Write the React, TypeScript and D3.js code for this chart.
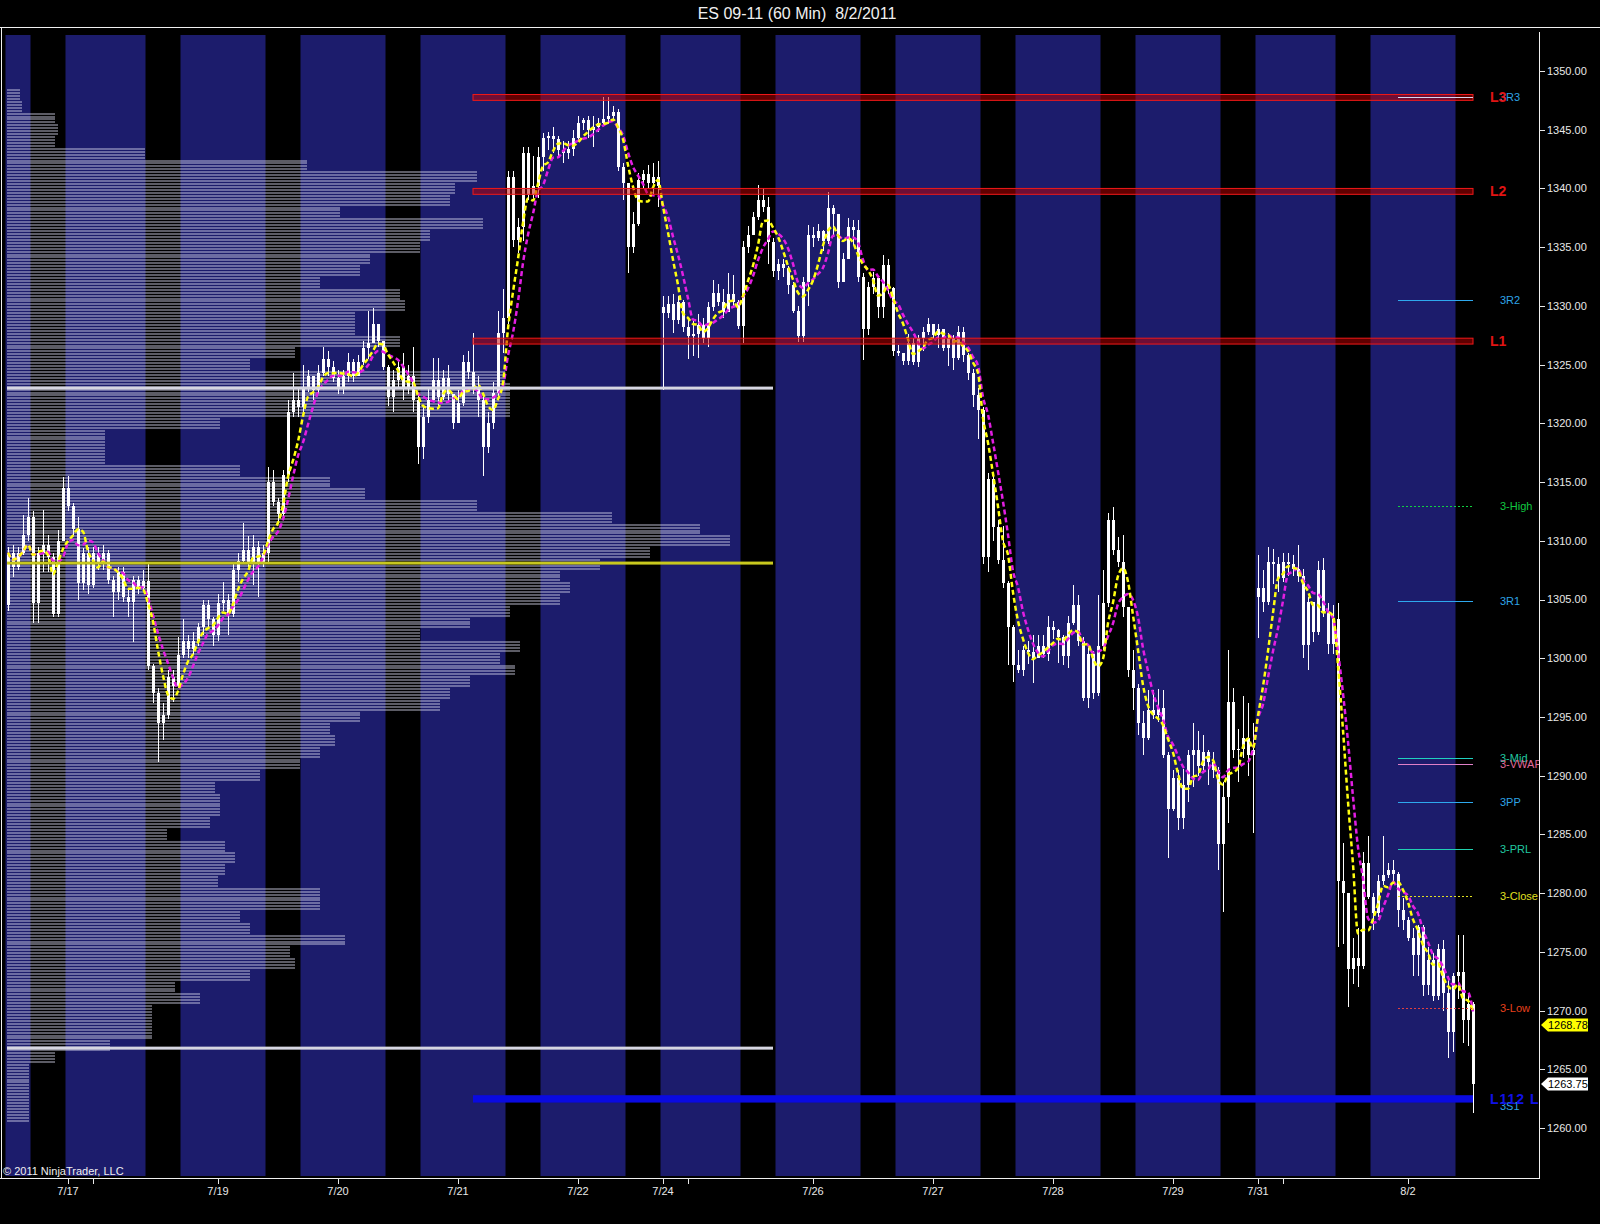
import { useEffect } from "react";
import * as d3 from "d3";

const W = 1600;
const H = 1224;

// hourly bars, ES 09-11, 7/15 evening through 8/2/2011
const closes = [
  1309, 1307.8, 1309, 1310.5, 1312, 1304.7, 1309, 1309.6, 1308.6, 1303.8, 1310, 1314.5,
  1313, 1311, 1306.4, 1309, 1306.2, 1309, 1308, 1309, 1306.7, 1305.6, 1307.3, 1305.2,
  1304.8, 1306.7, 1306, 1306.6, 1299.3, 1297, 1294.5, 1295.2, 1298.4, 1297.6, 1300.3, 1301.5,
  1300.8, 1301.5, 1302.7, 1304.5, 1303.3, 1302, 1304.7, 1305, 1303.8, 1307.5, 1308.3, 1309.2,
  1308.2, 1309.5, 1308.1, 1309, 1315, 1313.3, 1312.3, 1315.6, 1321, 1322, 1321.4, 1323,
  1324, 1322.8, 1324.3, 1325.5, 1324.8, 1323.9, 1323, 1324, 1325.2, 1324, 1325.2, 1326.4,
  1326.8, 1328.5, 1327, 1324.8, 1322.2, 1323.7, 1324.8, 1323, 1324, 1322, 1318, 1320.5,
  1322, 1323.7, 1322.2, 1323.9, 1322.5, 1320, 1321.7, 1325.2, 1324.4, 1323.1, 1322, 1318,
  1320, 1322.6, 1327.7, 1329, 1341, 1335.6, 1336.7, 1343, 1339.4, 1340.2, 1342.7, 1344.3,
  1344.5, 1344.2, 1343.3, 1343, 1343.4, 1344.3, 1345.6, 1345.8, 1345, 1345.2, 1345.6, 1345.9,
  1346.2, 1346.5, 1341.8, 1340.5, 1335, 1337, 1340.7, 1341.2, 1340.5, 1341, 1340.2, 1329.4,
  1330.2, 1328.8, 1330.3, 1328.2, 1327.4, 1327.6, 1328.4, 1327.3, 1329.9, 1331.1, 1330.3, 1329.5,
  1331, 1330.3, 1328.3, 1335, 1336, 1337.6, 1339, 1338.4, 1335.4, 1333, 1333.6, 1333.2,
  1331.8, 1329.6, 1327.4, 1332, 1336, 1335.8, 1336.4, 1335.5, 1338.3, 1337.8, 1332, 1334,
  1336.7, 1336.5, 1332.5, 1328, 1331.6, 1332.4, 1329.9, 1333.5, 1331.5, 1326.2, 1326, 1325.3,
  1326.8, 1325.2, 1327.3, 1327.8, 1328.5, 1327.5, 1328, 1326.4, 1327.3, 1325.6, 1327.8, 1325.8,
  1324.3, 1322.4, 1321.1, 1308.6, 1315.3, 1311.2, 1308.4, 1306.4, 1302.7, 1299.4, 1299, 1300.7,
  1300.5, 1300, 1301, 1300.4, 1302.7, 1302.4, 1301.8, 1300.2, 1303, 1304.5, 1301.5, 1296.6,
  1300.4, 1297, 1301, 1304.7, 1311.8, 1309.2, 1308.2, 1304.4, 1299, 1297.5, 1294.5, 1293.2,
  1295.6, 1295.2, 1295.8, 1291.8, 1287.2, 1289.8, 1286.4, 1289.2, 1291.8, 1292.2, 1290.8, 1292,
  1291.2, 1290.5, 1284.2, 1288.2, 1296.3, 1292.2, 1292.3, 1293.2, 1291.8, 1292.2, 1306, 1304.8,
  1308.2, 1308, 1306.8, 1308.2, 1308, 1307.6, 1307, 1301.1, 1304.8, 1302.2, 1307.5, 1303.9,
  1301.2, 1303.3, 1281, 1280, 1273.5, 1274.5, 1273.8, 1282.6, 1279.7, 1278.3, 1281, 1281.5,
  1282, 1281.6, 1278.6, 1277.7, 1276.2, 1274.7, 1277.1, 1272.2, 1274.3, 1271.2, 1275.2, 1271.5,
  1268.2, 1272.9, 1273.3, 1269.2, 1270.6, 1263.75,
];

const highs = [
  1309.5, 1309.6, 1309.5, 1312.2, 1313.6, 1312.5, 1309.5, 1312.6, 1310.5, 1309, 1310.9, 1315.4,
  1315.5, 1313.2, 1312, 1309.4, 1309.5, 1309.5, 1309.5, 1309.6, 1309.2, 1307, 1307.8, 1307.8,
  1306, 1307, 1307, 1307.5, 1308.1, 1299.5, 1297.5, 1296.2, 1299, 1299, 1301.8, 1303.3,
  1302, 1302.2, 1303, 1305, 1305, 1303.5, 1305.5, 1306.5, 1305.5, 1308, 1309, 1311.5,
  1310.4, 1310.5, 1310, 1309.6, 1316.3, 1316, 1313.6, 1316, 1322, 1324.3, 1323, 1325,
  1324.5, 1324, 1325, 1326.5, 1326.2, 1325.3, 1324.5, 1324.5, 1326, 1325.5, 1325.8, 1327,
  1329.6, 1329.8, 1328.5, 1327, 1325, 1324.5, 1325.5, 1326, 1325, 1326.5, 1322.5, 1321.5,
  1323, 1325.6, 1325.6, 1324.5, 1325, 1322.5, 1322.8, 1325.8, 1326.2, 1327.7, 1324, 1322.5,
  1321, 1323.5, 1329.6, 1331.4, 1341.5, 1341.5, 1337.5, 1343.5, 1343.5, 1342.8, 1343.5, 1344.7,
  1344.8, 1345.2, 1344.5, 1344, 1344, 1345, 1346.2, 1346, 1346.2, 1346.2, 1346, 1347.8,
  1347.8, 1347, 1346.8, 1342.2, 1340.5, 1338, 1341.3, 1341.6, 1342, 1342.2, 1342.3, 1330.8,
  1330.8, 1331, 1330.8, 1330.5, 1328.8, 1328.7, 1329.3, 1329, 1330.3, 1332.2, 1331.9, 1331.4,
  1332.8, 1332.6, 1330.5, 1335.5, 1336.8, 1338, 1340.3, 1340, 1339.3, 1335.8, 1334, 1334,
  1333.4, 1332, 1330, 1332.5, 1336.9, 1336.7, 1337, 1336.5, 1339.7, 1338.6, 1336, 1334.5,
  1337.5, 1337.3, 1337.3, 1332.8, 1332, 1332.9, 1332.5, 1334.3, 1334, 1331.6, 1326.7, 1326,
  1327.6, 1327.3, 1327.5, 1328.2, 1329, 1328.5, 1328.5, 1328, 1327.7, 1327.5, 1328.3, 1328.2,
  1326, 1324.6, 1323, 1321.4, 1315.8, 1315.5, 1311.8, 1311.3, 1306.6, 1302.8, 1300.7, 1301,
  1301.5, 1302, 1302, 1302, 1303.6, 1303.2, 1302.5, 1302, 1303.6, 1306.2, 1305.4, 1301.8,
  1301, 1300.6, 1305.4, 1307.5, 1312.4, 1312.9, 1310.3, 1310.5, 1304.3, 1300.7, 1297.8, 1295.5,
  1297.3, 1297.3, 1297.4, 1297.3, 1292, 1290.5, 1290.5, 1290.6, 1292.2, 1294.5, 1293.8, 1293.5,
  1292.2, 1292, 1290.7, 1289.5, 1300.7, 1297.5, 1294, 1296.8, 1296.2, 1294.5, 1308.8, 1307.5,
  1309.5, 1309.3, 1308.6, 1309, 1309, 1308.8, 1309.6, 1307.6, 1305.2, 1304.6, 1308.3, 1308.5,
  1304.7, 1304.5, 1304.7, 1284.3, 1277.5, 1276.2, 1277, 1283.5, 1284.9, 1280, 1281.5, 1284.9,
  1282.6, 1282.8, 1281.8, 1279.6, 1278, 1277, 1277.3, 1277.3, 1275.4, 1274.9, 1275.7, 1276,
  1272.9, 1273.2, 1276.4, 1276.4, 1271.5, 1270.7,
];

const lows = [
  1304, 1306.9, 1307.5, 1308.8, 1310, 1303, 1303, 1307.3, 1307.3, 1303.5, 1303.5, 1310,
  1312.5, 1310.5, 1305, 1305.8, 1305.5, 1306, 1307.5, 1307.5, 1306.3, 1303.5, 1305, 1304.8,
  1303.5, 1301.4, 1305.5, 1305.8, 1299, 1296.2, 1291.2, 1293, 1294.8, 1296.3, 1297.5, 1300,
  1300, 1300.3, 1301, 1302, 1302.5, 1301, 1301.5, 1304, 1302, 1303.5, 1306.5, 1308,
  1307.8, 1306.2, 1305.2, 1307.8, 1308, 1313, 1311.5, 1311.8, 1315, 1320.5, 1320.5, 1321,
  1322.7, 1322, 1322.5, 1324, 1324, 1323.5, 1322.5, 1322.5, 1323.5, 1323.5, 1324, 1325,
  1325.5, 1326.8, 1326.5, 1324.5, 1321.5, 1321, 1323, 1322, 1322.5, 1321, 1316.5, 1317,
  1320, 1321.8, 1321.5, 1322, 1321.8, 1319.5, 1320, 1321.5, 1323.8, 1322.5, 1320.5, 1315.5,
  1317.5, 1319.5, 1322, 1326, 1328.5, 1335, 1334.5, 1335.5, 1339, 1339, 1339.2, 1341.5,
  1343.3, 1343, 1342.6, 1342.2, 1342.5, 1342.8, 1344, 1345, 1344.3, 1343.5, 1344.8, 1345.3,
  1345.5, 1345.8, 1341.5, 1339, 1332.8, 1334.5, 1336.8, 1340, 1340, 1339.5, 1338.4, 1322.8,
  1329, 1327.7, 1328.5, 1327.8, 1325.5, 1325.7, 1325.6, 1326.8, 1326.5, 1329.6, 1330, 1329,
  1329.5, 1329.8, 1328, 1326.8, 1334.5, 1336.3, 1337.3, 1338, 1333.6, 1332.5, 1332.2, 1332.5,
  1331, 1329.4, 1326.9, 1326.9, 1330, 1335, 1335.5, 1334.7, 1335.3, 1336, 1331.5, 1332.7,
  1334, 1335.2, 1332, 1325.4, 1327.5, 1331, 1329, 1329, 1331, 1325.7, 1325.7, 1325,
  1325, 1325, 1324.8, 1326.2, 1327.5, 1327.2, 1326.4, 1326.2, 1324.9, 1324.5, 1325.4, 1325.2,
  1323.7, 1321.4, 1318.7, 1308, 1307.3, 1310, 1308, 1306, 1299.4, 1298, 1298.7, 1298.5,
  1299.5, 1297.9, 1300, 1300, 1299.8, 1301.6, 1299.6, 1299.4, 1299.2, 1302.8, 1301, 1296.4,
  1295.8, 1296.5, 1296.8, 1300.7, 1304.4, 1308.8, 1307.8, 1303.5, 1298.4, 1295.6, 1293.5, 1291.8,
  1293, 1294.8, 1294.6, 1291.5, 1283, 1287, 1285.4, 1285.5, 1287.8, 1289, 1290, 1290.5,
  1289.2, 1289.8, 1282, 1278.4, 1286, 1291.5, 1289.5, 1291.5, 1290, 1285.1, 1301.7, 1303.9,
  1304.5, 1306.3, 1305.6, 1306.5, 1307, 1307, 1306.5, 1300, 1299, 1301.4, 1302, 1303.5,
  1300.4, 1300.4, 1275.4, 1275.7, 1270.3, 1272.3, 1272, 1273.5, 1279.5, 1276.9, 1278, 1280.7,
  1281.3, 1280.8, 1277.1, 1276.9, 1275.9, 1272.9, 1272.9, 1271.2, 1271.3, 1270.8, 1270.9, 1270,
  1266, 1266.5, 1271, 1267.2, 1267, 1261.3,
];

// session opens that gap away from the prior close
const gapOpens: Record<number, number> = { 0: 1304.5, 131: 1329.9, 250: 1305.2 };

// blue session backgrounds, [first bar, last bar]
const sessions = [
  [0, 4], [12, 27], [35, 51], [59, 75], [83, 99], [107, 123], [131, 146],
  [154, 170], [178, 194], [202, 218], [226, 242], [250, 265], [273, 289],
];

const dateBars = [12, 17, 42, 66, 90, 114, 131, 136, 161, 185, 209, 233, 250, 255, 280];
const dateLabels = ["7/17", "", "7/19", "7/20", "7/21", "7/22", "7/24", "", "7/26", "7/27", "7/28", "7/29", "7/31", "", "8/2"];

const priceTicks = [1260, 1265, 1270, 1275, 1280, 1285, 1290, 1295, 1300, 1305, 1310, 1315, 1320, 1325, 1330, 1335, 1340, 1345, 1350];

// composite volume profile, 1-point bins (thousands of contracts)
const profilePrices = d3.range(1348, 1260, -1);
const profileVolumes = [
  1.3, 1.5, 4.8, 5.1, 4.8, 13.8, 30.0, 47.0, 44.8, 44.3, 33.3, 47.6,
  42.3, 41.3, 36.3, 35.3, 31.3, 39.3, 39.8, 34.8, 34.8, 39.3, 28.8, 24.3,
  49.8, 50.3, 50.3, 50.3, 21.3, 9.8, 9.8, 9.8, 23.3, 32.3, 35.8, 47.0,
  60.5, 69.3, 72.3, 64.3, 59.3, 55.3, 56.3, 55.3, 50.3, 46.3, 41.3, 51.3,
  49.3, 50.8, 46.3, 44.3, 43.3, 35.3, 32.3, 32.8, 31.3, 29.3, 25.3, 20.8,
  21.3, 21.3, 20.3, 16.0, 21.8, 22.8, 21.8, 21.1, 31.3, 31.3, 23.3, 24.3,
  33.8, 28.3, 28.8, 24.3, 16.8, 19.3, 14.5, 14.5, 14.5, 10.3, 4.8, 2.2,
  2.2, 2.2, 2.2, 2.2,
];
const valueAreaHigh = 1323.0;
const pointOfControl = 1308.1;
const valueAreaLow = 1266.8;

const zoneNames = ["L3", "L2", "L1"];
const zoneLow = [1347.5, 1339.5, 1326.75];
const zoneHigh = [1348.0, 1340.0, 1327.25];
const supportLow = 1262.25;
const supportHigh = 1262.75;

const pivotNames = ["3R3", "3R2", "3-High", "3R1", "3-Mid", "3-VWAP", "3PP", "3-PRL", "3-Close", "3-Low", "3S1"];
const pivotPrices = [1347.75, 1330.5, 1313.0, 1304.9, 1291.5, 1291.0, 1287.75, 1283.75, 1279.75, 1270.25, 1262.5];

const maMarker = 1268.78;

const pivotStyle: Record<string, { line: string; text: string; dash?: string }> = {
  "3R3": { line: "#d8d8f0", text: "#2ea4e6" },
  "3R2": { line: "#2ea8ee", text: "#2ea4e6" },
  "3-High": { line: "#10d040", text: "#10c840", dash: "2,2" },
  "3R1": { line: "#2ea8ee", text: "#2ea4e6" },
  "3-Mid": { line: "#20d0c0", text: "#20c8a0" },
  "3-VWAP": { line: "#e080c8", text: "#e06a9a" },
  "3PP": { line: "#2ea8ee", text: "#2ea4e6" },
  "3-PRL": { line: "#20d0b0", text: "#20c8a0" },
  "3-Close": { line: "#e0e020", text: "#e0e020", dash: "2,2" },
  "3-Low": { line: "#e04040", text: "#e8401c", dash: "2,2" },
  "3S1": { line: "#2ea8ee", text: "#2ea4e6" },
};

const sma = (vals: number[], n: number) =>
  vals.map((_, i) => d3.mean(vals.slice(Math.max(0, i - n + 1), i + 1)) as number);

const FONT = "'Liberation Sans', Arial, sans-serif";

export default function App() {
  useEffect(() => {
    document.body.style.margin = "0";
    document.body.style.background = "#000";
  }, []);

  const last = closes.length - 1;
  const x = d3.scaleLinear().domain([0, last]).range([8, 8 + 5 * last]);
  const y = d3.scaleLinear().domain([1260, 1350]).range([1128, 71]);
  const prof = d3.scaleLinear().domain([0, 100]).range([7, 1007]);

  const plotTop = 35;
  const plotBottom = 1176;
  const axisX = 1539;

  const fast = sma(closes, 5);
  const slow = sma(closes, 7);
  const maLine = d3
    .line<number>()
    .x((_, i) => x(i))
    .y((v) => y(v))
    .curve(d3.curveMonotoneX);

  const pivotX0 = x(278);
  const pivotX1 = x(last);
  const zoneX0 = x(93);
  const valueX1 = x(153);

  const marker = (price: number, fill: string, label: string) => {
    const cy = y(price);
    const pts = [
      [axisX + 2, cy],
      [axisX + 9, cy - 6.5],
      [axisX + 49, cy - 6.5],
      [axisX + 49, cy + 6.5],
      [axisX + 9, cy + 6.5],
    ];
    return (
      <g key={label}>
        <polygon points={pts.map((p) => p.join(",")).join(" ")} fill={fill} />
        <text x={axisX + 9} y={cy} dy="0.36em" fontSize={11} fill="#000" fontFamily={FONT}>
          {label}
        </text>
      </g>
    );
  };

  return (
    <svg width={W} height={H} style={{ display: "block", background: "#000" }}>
      <defs>
        <clipPath id="plot">
          <rect x={2} y={plotTop} width={axisX - 2} height={plotBottom - plotTop} />
        </clipPath>
        <clipPath id="labels">
          <rect x={0} y={0} width={axisX} height={H} />
        </clipPath>
      </defs>
      <rect width={W} height={H} fill="#000" />

      <text x={797} y={19} textAnchor="middle" fontSize={16} fill="#f0f0f0" fontFamily={FONT} style={{ whiteSpace: "pre" }}>
        {"ES 09-11 (60 Min)  8/2/2011"}
      </text>

      <g clipPath="url(#plot)">
        {sessions.map(([s, e], i) => (
          <rect key={i} x={x(s) - 2.5} y={plotTop} width={(e - s + 1) * 5} height={plotBottom - plotTop} fill="#1c1c6c" />
        ))}

        <g fill="#dcdcf0" fillOpacity={0.42} shapeRendering="crispEdges">
          {profilePrices.map((p, i) =>
            [-0.375, -0.125, 0.125, 0.375].map((off) => (
              <rect key={`${p}${off}`} x={prof(0)} y={Math.round(y(p + off)) - 1} width={prof(profileVolumes[i]) - prof(0)} height={2} />
            ))
          )}
        </g>

        <g fill="#fff" stroke="none" shapeRendering="crispEdges">
          {closes.map((c, i) => {
            const o = gapOpens[i] ?? closes[i - 1];
            const hi = Math.max(highs[i], o, c);
            const lo = Math.min(lows[i], o, c);
            const top = y(Math.max(o, c));
            const bh = Math.max(1, y(Math.min(o, c)) - top);
            const cx = Math.round(x(i));
            return (
              <g key={i}>
                <rect x={cx} y={y(hi)} width={1} height={y(lo) - y(hi)} />
                <rect x={cx - 1} y={top} width={3} height={bh} />
              </g>
            );
          })}
        </g>

        <path d={maLine(slow) ?? ""} fill="none" stroke="#e21ee2" strokeWidth={2.5} strokeDasharray="5,3" />
        <path d={maLine(fast) ?? ""} fill="none" stroke="#ffff10" strokeWidth={2.5} strokeDasharray="5,3" />

        {[valueAreaHigh, valueAreaLow].map((p) => (
          <rect key={p} x={7} y={y(p) - 1.5} width={valueX1 - 7} height={3} fill="#d6d6e2" />
        ))}
        <rect x={7} y={y(pointOfControl) - 1.5} width={valueX1 - 7} height={3} fill="#c8c81e" />

        {zoneNames.map((n, i) => (
          <rect
            key={n}
            x={zoneX0}
            y={y(zoneHigh[i])}
            width={pivotX1 - zoneX0}
            height={y(zoneLow[i]) - y(zoneHigh[i])}
            fill="#c00000"
            fillOpacity={0.5}
            stroke="#f01818"
            strokeWidth={1}
          />
        ))}

        {pivotNames.map((n, i) => {
          const st = pivotStyle[n];
          return (
            <line
              key={n}
              x1={pivotX0}
              x2={pivotX1}
              y1={Math.round(y(pivotPrices[i])) + 0.5}
              y2={Math.round(y(pivotPrices[i])) + 0.5}
              stroke={st.line}
              strokeWidth={1}
              strokeDasharray={st.dash}
            />
          );
        })}
        <rect x={zoneX0} y={y(supportHigh) - 0.5} width={pivotX1 - zoneX0} height={y(supportLow) - y(supportHigh) + 1.5} fill="#0a0ae0" />
      </g>

      <g clipPath="url(#labels)" fontFamily={FONT}>
        {pivotNames.map((n, i) => (
          <text key={n} x={pivotX1 + 27} y={y(pivotPrices[i]) + (n === "3S1" ? 7 : 0)} dy="0.36em" fontSize={11} fill={pivotStyle[n].text}>
            {n}
          </text>
        ))}
        {zoneNames.map((n, i) => (
          <text key={n} x={pivotX1 + 17} y={y((zoneLow[i] + zoneHigh[i]) / 2)} dy="0.36em" fontSize={14} fontWeight="bold" fill="#e01414">
            {n}
          </text>
        ))}
        <text x={pivotX1 + 17} y={y((supportLow + supportHigh) / 2)} dy="0.36em" fontSize={14} fontWeight="bold" fill="#1010e8" letterSpacing={1}>
          L112 L3
        </text>
      </g>

      <text x={3} y={1175} fontSize={11} fill="#f0f0f0" fontFamily={FONT}>
        © 2011 NinjaTrader, LLC
      </text>

      <line x1={0} x2={W} y1={27.5} y2={27.5} stroke="#f0f0f0" strokeWidth={1} />
      <line x1={1.5} x2={1.5} y1={27} y2={1178} stroke="#f0f0f0" strokeWidth={1} />
      <line x1={0} x2={axisX} y1={1178.5} y2={1178.5} stroke="#f0f0f0" strokeWidth={1} />
      <line x1={axisX + 0.5} x2={axisX + 0.5} y1={32} y2={1179} stroke="#f0f0f0" strokeWidth={1} />

      <g fontFamily={FONT} fontSize={11} fill="#e8e8e8">
        {priceTicks.map((p) => (
          <g key={p}>
            <line x1={axisX} x2={axisX + 6} y1={Math.round(y(p)) + 0.5} y2={Math.round(y(p)) + 0.5} stroke="#e8e8e8" />
            <text x={axisX + 8} y={y(p)} dy="0.36em">
              {p.toFixed(2)}
            </text>
          </g>
        ))}
        {dateBars.map((b, i) => (
          <g key={b}>
            <line x1={Math.round(x(b)) + 0.5} x2={Math.round(x(b)) + 0.5} y1={1178} y2={1184} stroke="#e8e8e8" />
            {dateLabels[i] && (
              <text x={x(b)} y={1195} textAnchor="middle">
                {dateLabels[i]}
              </text>
            )}
          </g>
        ))}
      </g>

      {marker(maMarker, "#ffff00", maMarker.toFixed(2))}
      {marker(closes[last], "#ffffff", closes[last].toFixed(2))}
    </svg>
  );
}
